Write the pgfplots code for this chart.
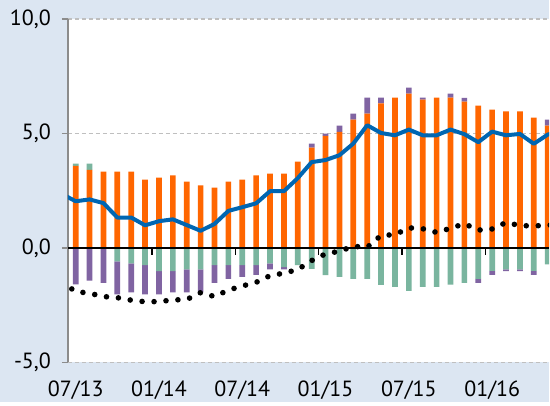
\documentclass[border=0pt]{standalone}
\usepackage{fontspec}
\setmainfont{PT Sans}
\usepackage{pgfplots}
\usepackage{pgfplotstable}
\pgfplotsset{compat=1.18}

\definecolor{bgblue}{RGB}{220,230,242}
\definecolor{barorange}{RGB}{255,102,0}
\definecolor{bargreen}{RGB}{122,181,159}
\definecolor{barpurple}{RGB}{128,100,162}
\definecolor{lineblue}{RGB}{0,102,178}
\definecolor{gridgray}{RGB}{191,191,191}
\definecolor{axisgray}{RGB}{140,140,140}

% monthly bars, n=0 is 07/13
\pgfplotstableread{
n  orange gpos ppos gneg  pneg
0  3.58   0.10 0    0     -1.59
1  3.41   0.27 0    0     -1.43
2  3.33   0    0    0     -1.52
3  3.33   0    0    -0.58 -1.45
4  3.33   0    0    -0.67 -1.27
5  2.99   0    0    -0.75 -1.28
6  3.07   0    0    -1.01 -1.02
7  3.17   0    0    -1.01 -0.93
8  2.90   0    0    -0.93 -1.01
9  2.73   0    0    -0.93 -1.01
10 2.64   0    0    -0.75 -0.77
11 2.90   0    0    -0.75 -0.60
12 2.99   0    0    -0.75 -0.51
13 3.17   0    0    -0.75 -0.42
14 3.25   0    0    -0.67 -0.26
15 3.25   0    0    -0.84 -0.09
16 3.77   0    0    -0.75 0
17 4.38   0    0.18 -0.91 0
18 4.90   0    0.09 -1.19 0
19 5.07   0    0.27 -1.26 0
20 5.61   0    0.26 -1.35 0
21 5.87   0    0.70 -1.35 0
22 6.31   0    0.26 -1.61 0
23 6.57   0    0    -1.70 0
24 6.74   0    0.26 -1.87 0
25 6.48   0    0.09 -1.70 0
26 6.57   0    0    -1.70 0
27 6.57   0    0.17 -1.60 0
28 6.39   0    0.17 -1.52 0
29 6.22   0    0    -1.35 -0.17
30 6.04   0    0    -1.00 -0.17
31 5.96   0    0    -0.93 -0.08
32 5.96   0    0    -0.93 -0.08
33 5.69   0    0    -1.00 -0.17
34 5.34   0    0.26 -0.72 0
}\bars

\pgfplotstableread{
n  blue black
-1 2.36 -1.50
0  2.04 -1.90
1  2.12 -1.98
2  1.96 -2.12
3  1.33 -2.17
4  1.33 -2.28
5  0.99 -2.35
6  1.17 -2.34
7  1.25 -2.27
8  1.00 -2.25
9  0.75 -1.95
10 1.05 -2.12
11 1.62 -1.84
12 1.78 -1.66
13 1.95 -1.50
14 2.48 -1.21
15 2.48 -1.10
16 3.05 -0.94
17 3.75 -0.55
18 3.84 -0.26
19 4.05 -0.14
20 4.56 0.07
21 5.36 0.03
22 5.02 0.55
23 4.92 0.58
24 5.17 0.88
25 4.92 0.84
26 4.92 0.68
27 5.17 0.86
28 4.97 1.06
29 4.62 0.78
30 5.08 0.83
31 4.92 1.11
32 4.98 0.98
33 4.55 0.96
34 4.95 1.00
35 5.10 1.00
}\lines

\pgfplotsset{
  common/.style={
    at={(0,0)}, anchor=south west,
    scale only axis, width=241pt, height=172pt,
    xmin=-0.56, xmax=34.11, ymin=-5, ymax=10,
    tick label style={font=\fontsize{11}{13}\selectfont},
  },
}

\begin{document}
\begin{tikzpicture}
\fill[bgblue] (-34pt,-20pt) rectangle (241pt,181.5pt);

% positive parts, grid and labels
\begin{axis}[common,
  axis background/.style={fill=white},
  axis y line*=left,
  y axis line style={draw=axisgray, line width=1pt, -},
  axis x line*=bottom,
  x axis line style={draw=none},
  ytick={-5,0,5,10},
  xtick={0,6,12,18,24,30},
  xticklabels={07/13,01/14,07/14,01/15,07/15,01/16},
  xtick style={draw=none},
  ytick style={draw=axisgray, line width=0.75pt},
  tick align=outside, major tick length=3pt,
  yticklabel style={xshift=-2pt},
  xticklabel style={yshift=-2.5pt},
  ymajorgrids,
  grid style={gridgray, line width=0.7pt, dash pattern=on 2pt off 1.5pt},
  /pgf/number format/.cd, fixed, fixed zerofill, precision=1, use comma,
  assume math mode=true,
  /pgfplots/.cd,
  ybar stacked, bar width=2.85pt,
]
\addplot[fill=barorange, draw=none] table[x=n, y=orange] {\bars};
\addplot[fill=bargreen, draw=none] table[x=n, y=gpos] {\bars};
\addplot[fill=barpurple, draw=none] table[x=n, y=ppos] {\bars};
\end{axis}

% negative parts
\begin{axis}[common, hide axis, ybar stacked, bar width=2.85pt]
\addplot[fill=bargreen, draw=none] table[x=n, y=gneg] {\bars};
\addplot[fill=barpurple, draw=none] table[x=n, y=pneg] {\bars};
\end{axis}

% zero line and the two lines
\begin{axis}[common,
  axis x line=middle, axis y line=none,
  x axis line style={black, line width=0.8pt, -},
  xtick={5.5,11.5,17.5,23.5,29.5}, xticklabels={},
  xtick style={black, line width=0.6pt},
  xtick align=outside, major tick length=3.5pt,
  ytick=\empty,
]
\addplot[black, line width=2.8pt, line cap=round, dash pattern=on 0pt off 6pt] table[x=n, y=black] {\lines};
\addplot[lineblue, line width=2pt, line join=round] table[x=n, y=blue] {\lines};
\end{axis}
\end{tikzpicture}
\end{document}
